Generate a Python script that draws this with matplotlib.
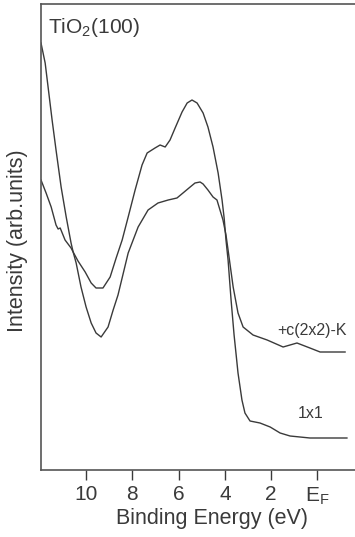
import matplotlib
matplotlib.use("Agg")
import matplotlib.pyplot as plt

plt.rcParams['font.family'] = ['Liberation Sans', 'DejaVu Sans']

# 1x1 surface (binding energy in eV, intensity in arb. units)
e_1x1 = [11.95, 11.73, 11.51, 11.30, 11.21, 11.12, 10.91, 10.65, 10.56, 10.35,
         10.04, 9.78, 9.57, 9.27, 8.96, 8.70, 8.44, 8.18, 7.88, 7.58,
         7.36, 7.02, 6.80, 6.58, 6.37, 6.15, 5.85, 5.63, 5.42, 5.20,
         4.94, 4.73, 4.51, 4.29, 4.12, 4.03, 3.95, 3.86, 3.73, 3.60,
         3.51, 3.43, 3.26, 3.13, 2.91, 2.48, 2.04, 1.61, 1.18, 0.32,
         -1.28]
i_1x1 = [290, 277, 263, 245, 241, 242, 230, 222, 218, 209,
         198, 187, 182, 182, 193, 212, 230, 253, 280, 305,
         317, 322, 325, 323, 330, 342, 358, 367, 370, 367,
         357, 343, 323, 297, 270, 252, 230, 210, 170, 135,
         115, 97, 70, 57, 49, 47, 43, 37, 34, 32,
         32]

# +c(2x2)-K surface
e_k = [11.95, 11.77, 11.47, 11.30, 11.08, 10.86, 10.65, 10.56, 10.43, 10.22,
       10.00, 9.78, 9.57, 9.35, 9.05, 8.83, 8.62, 8.18, 7.75, 7.32,
       6.89, 6.45, 6.07, 5.81, 5.50, 5.29, 5.07, 4.94, 4.73, 4.51,
       4.34, 4.21, 4.08, 3.95, 3.86, 3.64, 3.43, 3.21, 2.78, 2.17,
       1.48, 0.88, 0.32, -0.12, -1.20]
i_k = [427, 407, 350, 320, 283, 253, 227, 218, 207, 183,
       163, 147, 137, 133, 143, 160, 175, 217, 243, 260,
       267, 270, 272, 277, 283, 287, 288, 286, 280, 273,
       270, 260, 250, 235, 220, 183, 157, 143, 135, 130,
       123, 127, 122, 118, 118]

tick_pos = [10, 8, 6, 4, 2, 0]
tick_lab = ['10', '8', '6', '4', '2', r'E$_\mathregular{F}$']

ink = '#3a3a3a'

fig = plt.figure(figsize=(3.55, 5.37), dpi=100)
ax = fig.add_axes([41/355, 67/537, (383-41)/355, 466/537])

ax.plot(e_1x1, i_1x1, color=ink, linewidth=1.0)
ax.plot(e_k, i_k, color=ink, linewidth=1.0)

ax.set_xlim(11.95, -2.84)
ax.set_ylim(0, 466)

ax.set_xticks(tick_pos)
ax.set_xticklabels(tick_lab)
ax.tick_params(axis='x', direction='out', length=7, width=1.0, color=ink,
               labelsize=15, labelcolor=ink, pad=4)
ax.set_yticks([])
for s in ax.spines.values():
    s.set_color('#555555')
    s.set_linewidth(1.2)
ax.spines['right'].set_visible(False)

ax.set_xlabel('Binding Energy (eV)', fontsize=15.5, color=ink, labelpad=1)
fig.text(18/355, 1 - 241/537, 'Intensity (arb.units)', rotation=90,
         ha='center', va='center', fontsize=15.5, color=ink)

ax.text(7/342, 0.95, r'TiO$_\mathregular{2}$(100)', transform=ax.transAxes,
        ha='left', va='center', fontsize=15, color=ink)
ax.text(-1.28, 140, '+c(2x2)-K', ha='right', va='center', fontsize=11.5, color=ink)
ax.text(0.27, 57, '1x1', ha='center', va='center', fontsize=11.5, color=ink)

fig.savefig('out.png', dpi=100)
